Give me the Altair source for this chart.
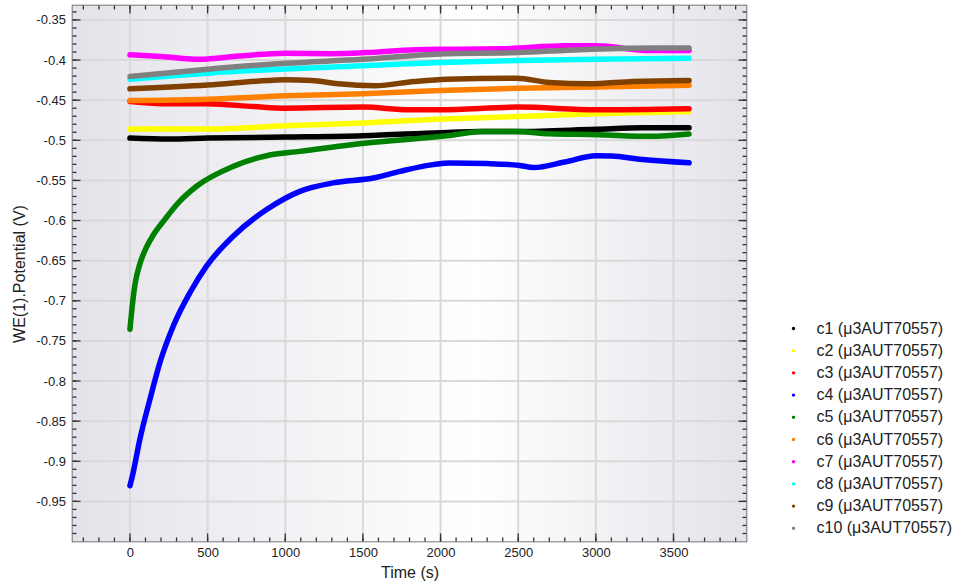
import altair as alt
import pandas as pd

FONT = "Liberation Sans"

names = ["c1 (μ3AUT70557)", "c2 (μ3AUT70557)", "c3 (μ3AUT70557)", "c4 (μ3AUT70557)",
         "c5 (μ3AUT70557)", "c6 (μ3AUT70557)", "c7 (μ3AUT70557)", "c8 (μ3AUT70557)",
         "c9 (μ3AUT70557)", "c10 (μ3AUT70557)"]
colors = ["#000000", "#FFFF00", "#FF0000", "#0000FF", "#008000",
          "#FF8000", "#FF00FF", "#00FFFF", "#804000", "#808080"]

c1_t = [0, 250, 500, 1000, 1500, 2000, 2250, 2500, 3000, 3300, 3600]
c1_v = [-0.4972, -0.4984, -0.4972, -0.4960, -0.4944, -0.4905, -0.4890, -0.4890, -0.4862, -0.4845, -0.4843]

c2_t = [0, 500, 1000, 1500, 2000, 2500, 3000, 3600]
c2_v = [-0.4860, -0.4860, -0.4818, -0.4785, -0.4735, -0.4703, -0.4670, -0.4640]

c3_t = [0, 250, 500, 800, 1000, 1500, 1800, 2000, 2500, 3000, 3600]
c3_v = [-0.4516, -0.4545, -0.4545, -0.4580, -0.4599, -0.4586, -0.4620, -0.4620, -0.4586, -0.4620, -0.4607]

c4_t = [0, 21, 64, 129, 193, 279, 386, 493, 665, 880, 1094, 1309, 1566, 1738, 1952, 2059,
        2300, 2500, 2600, 2800, 3000, 3100, 3300, 3600]
c4_v = [-0.9305, -0.9138, -0.8724, -0.8226, -0.7770, -0.7315, -0.6900, -0.6568, -0.6195, -0.5863,
        -0.5636, -0.5531, -0.5470, -0.5387, -0.5303, -0.5283, -0.5290, -0.5310, -0.5340, -0.5270,
        -0.5192, -0.5195, -0.5240, -0.5280]

c5_t = [0, 15, 32, 64, 107, 150, 225, 311, 429, 665, 880, 1094, 1523, 2059, 2270, 2490, 2700,
        3010, 3350, 3600]
c5_v = [-0.7356, -0.7060, -0.6800, -0.6540, -0.6330, -0.6180, -0.5985, -0.5780, -0.5573, -0.5325,
        -0.5192, -0.5138, -0.5034, -0.4940, -0.4890, -0.4890, -0.4918, -0.4930, -0.4951, -0.4922]

c6_t = [0, 500, 1000, 1500, 2000, 2500, 3000, 3600]
c6_v = [-0.4504, -0.4487, -0.4446, -0.4420, -0.4380, -0.4350, -0.4337, -0.4313]

c7_t = [0, 200, 450, 700, 1000, 1300, 1520, 1840, 2060, 2400, 2800, 3000, 3350, 3600]
c7_v = [-0.3935, -0.3955, -0.3990, -0.3950, -0.3915, -0.3920, -0.3907, -0.3870, -0.3865, -0.3860,
        -0.3823, -0.3823, -0.3880, -0.3880]

c8_t = [0, 500, 1000, 1500, 2000, 2500, 3000, 3600]
c8_v = [-0.4238, -0.4163, -0.4110, -0.4070, -0.4030, -0.4006, -0.3990, -0.3977]

c9_t = [0, 500, 890, 1000, 1170, 1340, 1580, 1830, 2040, 2490, 2700, 2960, 3240, 3600]
c9_v = [-0.4358, -0.4310, -0.4255, -0.4246, -0.4255, -0.4296, -0.4320, -0.4267, -0.4238, -0.4226,
        -0.4280, -0.4296, -0.4267, -0.4255]

c10_t = [0, 500, 1000, 1500, 2000, 2500, 2900, 3350, 3600]
c10_v = [-0.4205, -0.4114, -0.4040, -0.3990, -0.3923, -0.3907, -0.3870, -0.3850, -0.3850]

all_t = [c1_t, c2_t, c3_t, c4_t, c5_t, c6_t, c7_t, c8_t, c9_t, c10_t]
all_v = [c1_v, c2_v, c3_v, c4_v, c5_v, c6_v, c7_v, c8_v, c9_v, c10_v]

x_major = [0, 500, 1000, 1500, 2000, 2500, 3000, 3500]
x_minor = [h * 100 for h in range(-3, 40)]
y_major = [round(-0.95 + 0.05 * k, 2) for k in range(13)]
y_minor = [round(-0.99 + 0.01 * k, 2) for k in range(66)]

rows = []
for i, (ts, vs) in enumerate(zip(all_t, all_v)):
    for t, v in zip(ts, vs):
        rows.append({"series": names[i], "order": i, "t": t, "v": v})
df = pd.DataFrame(rows)

W, H = 674, 536
xscale = alt.Scale(domain=[-370, 3970], nice=False, zero=False)
yscale = alt.Scale(domain=[-1.0, -0.332], nice=False, zero=False)

xaxis = alt.Axis(
    values=x_major, format="d", title="Time (s)", grid=False, ticks=False, domain=False,
    labelFont=FONT, labelFontSize=13, labelColor="#222", labelPadding=5,
    titleFont=FONT, titleFontSize=16, titleFontWeight="normal", titleColor="#222",
    titlePadding=5)
yaxis = alt.Axis(
    values=y_major, labelExpr="(datum.value < 0 ? '-' : '') + format(abs(datum.value), '.2~f')",
    title="WE(1).Potential (V)", grid=False, ticks=False, domain=False,
    labelFont=FONT, labelFontSize=13, labelColor="#222", labelPadding=7,
    titleFont=FONT, titleFontSize=16, titleFontWeight="normal", titleColor="#222",
    titlePadding=8)

bg = alt.LinearGradient(
    gradient="linear",
    stops=[alt.GradientStop(color="#e3e3ea", offset=0),
           alt.GradientStop(color="#ffffff", offset=0.6),
           alt.GradientStop(color="#e3e3ea", offset=1)],
    x1=0, x2=1, y1=0, y2=0)

background = alt.Chart(pd.DataFrame({"k": [0]})).mark_rect(color=bg).encode(
    x=alt.value(0), x2=alt.value(W), y=alt.value(0), y2=alt.value(H))

GRID = "#d9d9d9"
grid_x = alt.Chart(pd.DataFrame({"t": x_major})).mark_rule(color=GRID, strokeWidth=2).encode(
    x=alt.X("t:Q", scale=xscale, axis=xaxis), y=alt.value(0), y2=alt.value(H))
grid_y = alt.Chart(pd.DataFrame({"v": y_major})).mark_rule(color=GRID, strokeWidth=2).encode(
    y=alt.Y("v:Q", scale=yscale, axis=yaxis), x=alt.value(0), x2=alt.value(W))

lines = alt.Chart(df).mark_line(
    strokeWidth=5.5, strokeCap="round", strokeJoin="round", interpolate="monotone"
).encode(
    x=alt.X("t:Q", scale=xscale, axis=xaxis),
    y=alt.Y("v:Q", scale=yscale, axis=yaxis),
    color=alt.Color("series:N", scale=alt.Scale(domain=names, range=colors),
                    legend=alt.Legend(title=None, orient="none", legendX=713, legendY=315,
                                      symbolType="circle", symbolSize=3, symbolStrokeWidth=1.6,
                                      labelFont=FONT, labelFontSize=16, labelColor="#222",
                                      labelOffset=15, rowPadding=6.2, padding=0)),
    order=alt.Order("order:Q"),
    detail="series:N",
)

TICK = "#333333"


def yticks(vals, x0, x1):
    return alt.Chart(pd.DataFrame({"v": vals})).mark_rule(color=TICK, strokeWidth=1.3).encode(
        y=alt.Y("v:Q", scale=yscale, axis=yaxis), x=alt.value(x0), x2=alt.value(x1))


def xticks(vals, y0, y1):
    return alt.Chart(pd.DataFrame({"t": vals})).mark_rule(color=TICK, strokeWidth=1.3).encode(
        x=alt.X("t:Q", scale=xscale, axis=xaxis), y=alt.value(y0), y2=alt.value(y1))


layers = [
    background, grid_x, grid_y,
    lines,
    yticks(y_minor, 0, 4), yticks(y_major, 0, 8),
    yticks(y_minor, W, W - 4), yticks(y_major, W, W - 8),
    xticks(x_minor, H, H - 4), xticks(x_major, H, H - 8),
    xticks(x_minor, 0, 4), xticks(x_major, 0, 8),
]

chart = alt.layer(*layers).properties(
    width=W, height=H,
    autosize=alt.AutoSizeParams(type="none"),
    padding={"left": 72.5, "top": 5.5, "right": 955 - 72.5 - W, "bottom": 586 - 5.5 - H},
    background="white",
).configure_view(stroke="#4d4d4d", strokeWidth=1.5)

chart.save("out.html", embed_options={"renderer": "svg", "actions": False})
